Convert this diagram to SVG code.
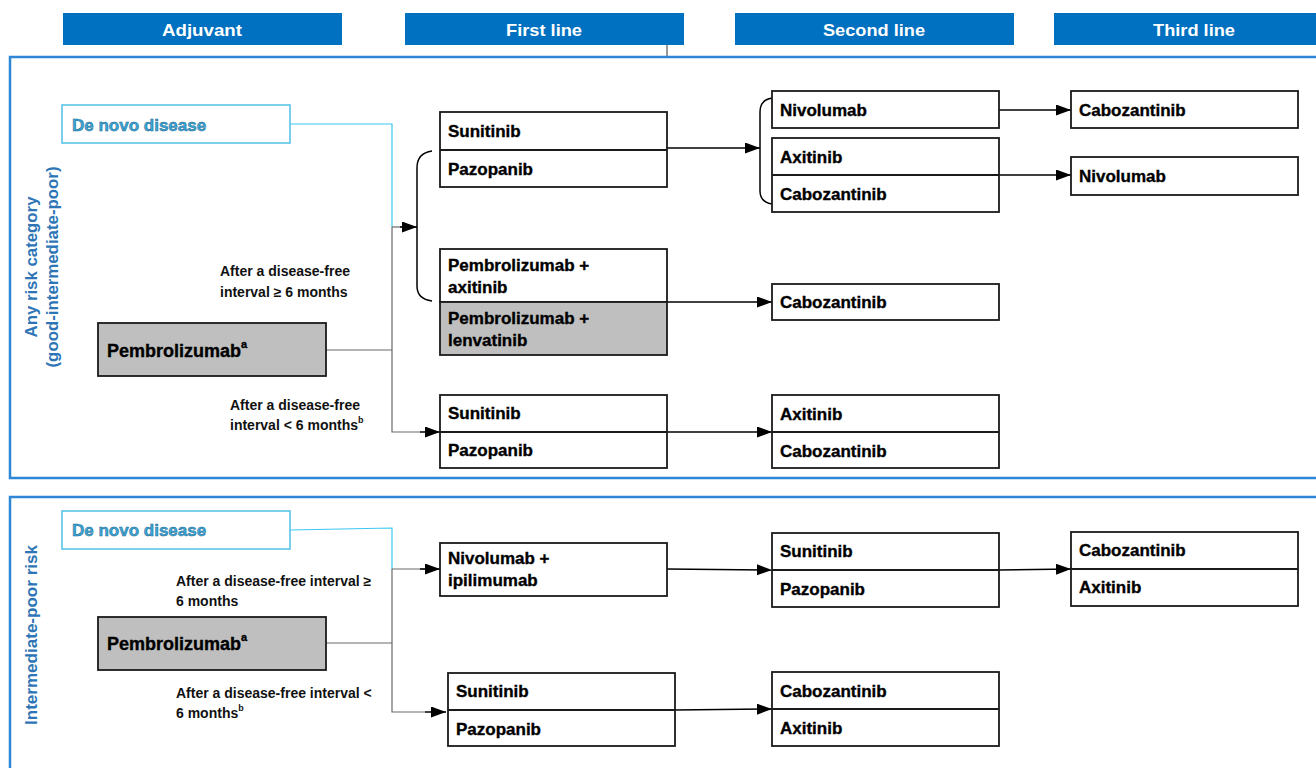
<svg xmlns="http://www.w3.org/2000/svg" width="1316" height="768" viewBox="0 0 1316 768">
  <defs>
    <marker id="arrow" markerUnits="userSpaceOnUse" markerWidth="16" markerHeight="12" refX="15" refY="5.5" orient="auto">
      <path d="M0,0 L15,5.5 L0,11 z" fill="#000"/>
    </marker>
    <style>
      .hdr { fill: #0070C0; }
      .hdr-t { font-family: "Liberation Sans", Arial, sans-serif; font-weight: bold; font-size: 17px; fill: #fff; text-anchor: middle; }
      .panel { fill: none; stroke: #2E86D6; stroke-width: 2.5; }
      .side { font-family: "Liberation Sans", Arial, sans-serif; font-weight: bold; font-size: 17px; fill: #2E75B6; text-anchor: middle; }
      .box { fill: #fff; stroke: #1a1a1a; stroke-width: 1.8; }
      .grey { fill: #BFBFBF; stroke: #1a1a1a; stroke-width: 1.8; }
      .div { stroke: #1a1a1a; stroke-width: 1.8; }
      .t { font-family: "Liberation Sans", Arial, sans-serif; font-weight: bold; font-size: 17px; fill: #000; stroke: #000; stroke-width: 0.35; }
      .sup { font-size: 11px; }
      .denovo { fill: #fff; stroke: #5BC4E8; stroke-width: 1.6; }
      .denovo-t { font-family: "Liberation Sans", Arial, sans-serif; font-weight: bold; font-size: 17px; fill: #3AA6D6; stroke: #24688F; stroke-width: 0.5; }
      .lbl { font-family: "Liberation Sans", Arial, sans-serif; font-weight: bold; font-size: 14px; fill: #111; }
      .lbl-sup { font-size: 9px; }
      .c { fill: none; stroke: #000; stroke-width: 1.5; }
      .cg { fill: none; stroke: #6a6a6a; stroke-width: 1.2; }
      .cb { fill: none; stroke: #3CC8F2; stroke-width: 1.2; }
    </style>
  </defs>

  <rect width="1316" height="768" fill="#fff"/>

  <!-- Column headers -->
  <g id="headers">
    <rect class="hdr" x="63" y="13" width="279" height="32"/>
    <text class="hdr-t" x="202" y="36" textLength="80" lengthAdjust="spacingAndGlyphs">Adjuvant</text>
    <rect class="hdr" x="405" y="13" width="279" height="32"/>
    <text class="hdr-t" x="544" y="36" textLength="76" lengthAdjust="spacingAndGlyphs">First line</text>
    <rect class="hdr" x="735" y="13" width="279" height="32"/>
    <text class="hdr-t" x="874" y="36" textLength="102" lengthAdjust="spacingAndGlyphs">Second line</text>
    <rect class="hdr" x="1054" y="13" width="280" height="32"/>
    <text class="hdr-t" x="1194" y="36" textLength="82" lengthAdjust="spacingAndGlyphs">Third line</text>
    <line x1="667" y1="45" x2="667" y2="57" stroke="#333" stroke-width="1"/>
  </g>

  <!-- Risk panels -->
  <g id="panel-any-risk">
    <rect class="panel" x="10" y="57" width="1330" height="421"/>
    <text class="side" transform="translate(37,267) rotate(-90)" textLength="141" lengthAdjust="spacingAndGlyphs">Any risk category</text>
    <text class="side" transform="translate(58,267) rotate(-90)" textLength="201" lengthAdjust="spacingAndGlyphs">(good-intermediate-poor)</text>
  </g>
  <g id="panel-intermediate-poor">
    <rect class="panel" x="10" y="497" width="1330" height="300"/>
    <text class="side" transform="translate(37,635) rotate(-90)" textLength="180" lengthAdjust="spacingAndGlyphs">Intermediate-poor risk</text>
  </g>

  <!-- Connectors -->
  <g id="connectors">
    <!-- upper panel: adjuvant to first line -->
    <polyline class="cb" points="290,124 392,124 392,227"/>
    <polyline class="cg" points="326,350 392,350"/>
    <polyline class="cg" points="392,227 392,432 420,432"/>
    <line class="cg" x1="392" y1="227" x2="403" y2="227"/>
    <line class="c" x1="400" y1="227" x2="417" y2="227" marker-end="url(#arrow)"/>
    <line class="c" x1="420" y1="432" x2="440" y2="432" marker-end="url(#arrow)"/>
    <path class="c" d="M432,151 Q417,153 417,168 L417,286 Q417,299 432,301"/>
    <!-- upper panel: first to second line -->
    <line class="c" x1="667" y1="148" x2="760" y2="148" marker-end="url(#arrow)"/>
    <path class="c" d="M772,98 Q760,100 760,112 L760,191 Q760,202 772,204"/>
    <line class="c" x1="667" y1="302" x2="772" y2="302" marker-end="url(#arrow)"/>
    <line class="c" x1="667" y1="432" x2="772" y2="432" marker-end="url(#arrow)"/>
    <!-- upper panel: second to third line -->
    <line class="c" x1="999" y1="110" x2="1071" y2="110" marker-end="url(#arrow)"/>
    <line class="c" x1="999" y1="175" x2="1071" y2="175" marker-end="url(#arrow)"/>

    <!-- lower panel: adjuvant to first line -->
    <polyline class="cb" points="290,530 392,528 392,569"/>
    <polyline class="cg" points="326,643 392,643"/>
    <polyline class="cg" points="392,569 392,712 425,712"/>
    <line class="cg" x1="392" y1="569" x2="425" y2="569"/>
    <line class="c" x1="420" y1="569" x2="440" y2="569" marker-end="url(#arrow)"/>
    <line class="c" x1="425" y1="712" x2="446" y2="712" marker-end="url(#arrow)"/>
    <!-- lower panel: later lines -->
    <line class="c" x1="667" y1="569" x2="772" y2="570" marker-end="url(#arrow)"/>
    <line class="c" x1="999" y1="570" x2="1071" y2="569" marker-end="url(#arrow)"/>
    <line class="c" x1="675" y1="710" x2="772" y2="709" marker-end="url(#arrow)"/>
  </g>

  <!-- Upper panel nodes -->
  <g id="denovo-1">
    <rect class="denovo" x="62" y="105" width="228" height="38"/>
    <text class="denovo-t" x="72" y="131">De novo disease</text>
  </g>
  <g id="pembro-adj-1">
    <rect class="grey" x="98" y="323" width="228" height="53"/>
    <text class="t" x="107" y="357" style="font-size:18px">Pembrolizumab<tspan class="sup" dy="-9">a</tspan></text>
  </g>
  <text class="lbl" x="220" y="276">After a disease-free</text>
  <text class="lbl" x="220" y="297">interval ≥ 6 months</text>
  <text class="lbl" x="230" y="410">After a disease-free</text>
  <text class="lbl" x="230" y="430">interval &lt; 6 months<tspan class="lbl-sup" dy="-7">b</tspan></text>

  <g id="fl-sun-paz-1">
    <rect class="box" x="440" y="112" width="227" height="75"/>
    <line class="div" x1="440" y1="150" x2="667" y2="150"/>
    <text class="t" x="448" y="137">Sunitinib</text>
    <text class="t" x="448" y="175">Pazopanib</text>
  </g>
  <g id="fl-pembro-combos">
    <rect class="box" x="440" y="249" width="227" height="53"/>
    <rect class="grey" x="440" y="302" width="227" height="53"/>
    <text class="t" x="448" y="271">Pembrolizumab +</text>
    <text class="t" x="448" y="293">axitinib</text>
    <text class="t" x="448" y="324">Pembrolizumab +</text>
    <text class="t" x="448" y="346">lenvatinib</text>
  </g>
  <g id="fl-sun-paz-2">
    <rect class="box" x="440" y="395" width="227" height="73"/>
    <line class="div" x1="440" y1="432" x2="667" y2="432"/>
    <text class="t" x="448" y="419">Sunitinib</text>
    <text class="t" x="448" y="456">Pazopanib</text>
  </g>

  <g id="sl-nivo-1">
    <rect class="box" x="772" y="91" width="227" height="37"/>
    <text class="t" x="780" y="116">Nivolumab</text>
  </g>
  <g id="sl-axi-cabo-1">
    <rect class="box" x="772" y="138" width="227" height="74"/>
    <line class="div" x1="772" y1="175" x2="999" y2="175"/>
    <text class="t" x="780" y="163">Axitinib</text>
    <text class="t" x="780" y="200">Cabozantinib</text>
  </g>
  <g id="sl-cabo-1">
    <rect class="box" x="772" y="284" width="227" height="36"/>
    <text class="t" x="780" y="308">Cabozantinib</text>
  </g>
  <g id="sl-axi-cabo-2">
    <rect class="box" x="772" y="395" width="227" height="73"/>
    <line class="div" x1="772" y1="432" x2="999" y2="432"/>
    <text class="t" x="780" y="420">Axitinib</text>
    <text class="t" x="780" y="457">Cabozantinib</text>
  </g>

  <g id="tl-cabo-1">
    <rect class="box" x="1071" y="91" width="227" height="37"/>
    <text class="t" x="1079" y="116">Cabozantinib</text>
  </g>
  <g id="tl-nivo-1">
    <rect class="box" x="1071" y="157" width="227" height="38"/>
    <text class="t" x="1079" y="182">Nivolumab</text>
  </g>

  <!-- Lower panel nodes -->
  <g id="denovo-2">
    <rect class="denovo" x="62" y="511" width="228" height="38"/>
    <text class="denovo-t" x="72" y="536">De novo disease</text>
  </g>
  <g id="pembro-adj-2">
    <rect class="grey" x="98" y="617" width="228" height="53"/>
    <text class="t" x="107" y="650" style="font-size:18px">Pembrolizumab<tspan class="sup" dy="-9">a</tspan></text>
  </g>
  <text class="lbl" x="176" y="586">After a disease-free interval ≥</text>
  <text class="lbl" x="176" y="606">6 months</text>
  <text class="lbl" x="176" y="698">After a disease-free interval &lt;</text>
  <text class="lbl" x="176" y="718">6 months<tspan class="lbl-sup" dy="-7">b</tspan></text>

  <g id="fl-nivo-ipi">
    <rect class="box" x="440" y="543" width="227" height="53"/>
    <text class="t" x="448" y="564">Nivolumab +</text>
    <text class="t" x="448" y="586">ipilimumab</text>
  </g>
  <g id="fl-sun-paz-3">
    <rect class="box" x="448" y="673" width="227" height="73"/>
    <line class="div" x1="448" y1="710" x2="675" y2="710"/>
    <text class="t" x="456" y="697">Sunitinib</text>
    <text class="t" x="456" y="735">Pazopanib</text>
  </g>
  <g id="sl-sun-paz">
    <rect class="box" x="772" y="533" width="227" height="74"/>
    <line class="div" x1="772" y1="570" x2="999" y2="570"/>
    <text class="t" x="780" y="557">Sunitinib</text>
    <text class="t" x="780" y="595">Pazopanib</text>
  </g>
  <g id="sl-cabo-axi">
    <rect class="box" x="772" y="672" width="227" height="74"/>
    <line class="div" x1="772" y1="709" x2="999" y2="709"/>
    <text class="t" x="780" y="697">Cabozantinib</text>
    <text class="t" x="780" y="734">Axitinib</text>
  </g>
  <g id="tl-cabo-axi">
    <rect class="box" x="1071" y="532" width="227" height="74"/>
    <line class="div" x1="1071" y1="569" x2="1298" y2="569"/>
    <text class="t" x="1079" y="556">Cabozantinib</text>
    <text class="t" x="1079" y="593">Axitinib</text>
  </g>
</svg>
